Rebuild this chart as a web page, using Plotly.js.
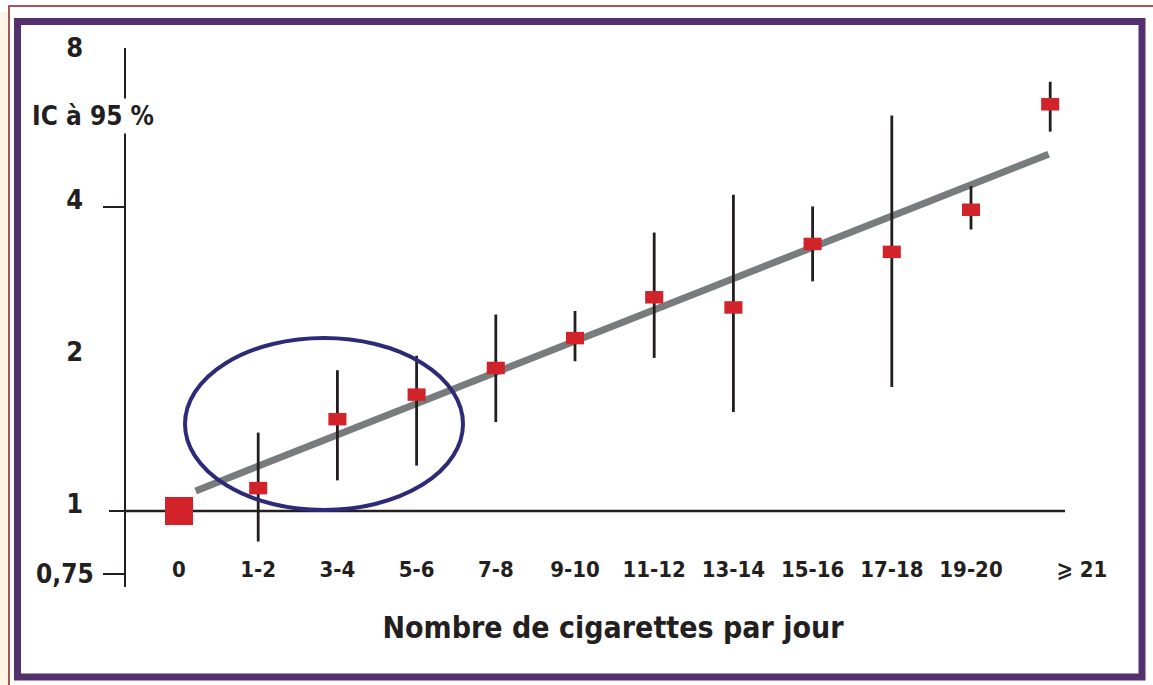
<!DOCTYPE html>
<html><head><meta charset="utf-8">
<script src="https://cdn.plot.ly/plotly-3.0.1.min.js"></script>
<style>html,body{margin:0;padding:0;background:#fff;overflow:hidden;} #chart{width:1153px;height:685px;}</style>
</head><body><div id="chart"></div>
<script>
// ---- data ----
const categories = ['0','1-2','3-4','5-6','7-8','9-10','11-12','13-14','15-16','17-18','19-20','\u2A7E 21'];
const rr     = [1.00, 1.11, 1.52, 1.70, 1.92, 2.20, 2.65, 2.53, 3.38, 3.26, 3.95, 6.39];
const ciLow  = [1.00, 0.87, 1.15, 1.23, 1.50, 1.98, 2.01, 1.57, 2.85, 1.76, 3.61, 5.64];
const ciHigh = [1.00, 1.43, 1.90, 2.03, 2.45, 2.49, 3.56, 4.23, 4.01, 6.07, 4.40, 7.08];
const trendX = [0.21, 10.98];
const trendY = [1.096, 5.09];
const yLabelVals = [1, 2, 4, 8];
const yLabelText = ['1', '2', '4', '8'];
const yTickMarkVals = [0.75, 4];
const yTickMarkText = ['0,75', ''];
const yTitle = 'IC \u00e0 95 %';
const xTitle = 'Nombre de cigarettes par jour';

// ---- layout helpers (pixel -> paper) ----
const L = 126, R = 1100, T = 48, B = 587;
const W = R - L, H = B - T;
const px = v => (v - L) / W;
const py = v => (B - v) / H;

const FONT = 'Liberation Sans Narrow, DejaVu Sans Condensed, Arial Narrow, sans-serif';
const INK = '#231f20';
const RED = '#d2232a';

const idx = categories.map((c, i) => i);
const last = categories.length - 1;
const xTickVals = idx.map(i => i === last ? i + 0.4 : i);

const yRange = [Math.log10(Math.pow(2, (511 - B) / 152)), Math.log10(Math.pow(2, (511 - T) / 152))];

const traces = [
  { x: trendX, y: trendY, type: 'scatter', mode: 'lines',
    line: { color: '#787c7c', width: 7 }, hoverinfo: 'skip', showlegend: false },
  { x: idx.slice(1), y: rr.slice(1), type: 'scatter', mode: 'markers',
    error_y: { type: 'data', symmetric: false,
      array: ciHigh.slice(1).map((h, i) => h - rr[i + 1]),
      arrayminus: ciLow.slice(1).map((l, i) => rr[i + 1] - l),
      color: INK, thickness: 2.8, width: 0 },
    marker: { symbol: 'line-ew', size: 12.9, color: RED, line: { color: RED, width: 12.5 } },
    showlegend: false },
  { x: idx.slice(0, 1), y: rr.slice(0, 1), type: 'scatter', mode: 'markers',
    marker: { symbol: 'square', size: 28, color: RED, line: { width: 0 } }, showlegend: false },
  { x: [], y: [], yaxis: 'y2', type: 'scatter', showlegend: false },
  { x: [], y: [], yaxis: 'y3', type: 'scatter', showlegend: false }
];

const commonY = { type: 'log', range: yRange, showgrid: false, zeroline: false, fixedrange: true };

const layout = {
  width: 1153, height: 685,
  margin: { l: L, r: 1153 - R, t: T, b: 685 - B, pad: 0 },
  paper_bgcolor: '#ffffff', plot_bgcolor: 'rgba(0,0,0,0)',
  showlegend: false,
  font: { family: FONT, color: INK, weight: 'bold' },
  xaxis: {
    range: [(L - 179) / 79.2, (R - 179) / 79.2],
    anchor: 'free', position: 0.062,
    showgrid: false, zeroline: false, showline: false, ticks: '',
    tickvals: xTickVals, ticktext: categories,
    tickfont: { family: FONT, size: 22, color: INK, weight: 'bold' },
    title: { text: xTitle, standoff: 36, font: { family: FONT, size: 30, color: INK, weight: 'bold' } },
    automargin: false, fixedrange: true
  },
  yaxis: Object.assign({}, commonY, {
    showline: true, linewidth: 2.5, linecolor: INK, ticks: '',
    tickvals: yLabelVals, ticktext: yLabelText,
    ticklabelstandoff: 35, ticklabelshift: -7,
    tickfont: { family: FONT, size: 27, color: INK, weight: 'bold' },
    automargin: false
  }),
  yaxis2: Object.assign({}, commonY, {
    overlaying: 'y', side: 'left', anchor: 'x', showline: false,
    ticks: 'outside', ticklen: 22, tickwidth: 2.5, tickcolor: INK,
    tickvals: yTickMarkVals, ticktext: yTickMarkText,
    ticklabelstandoff: 4,
    tickfont: { family: FONT, size: 26, color: INK, weight: 'bold' },
    automargin: false
  }),
  yaxis3: Object.assign({}, commonY, {
    overlaying: 'y', side: 'left', anchor: 'x', showline: false,
    ticks: 'outside', ticklen: 16, tickwidth: 2.5, tickcolor: INK,
    tickvals: [1], showticklabels: false, automargin: false
  }),
  shapes: [
    // reference line at 1
    { type: 'line', xref: 'paper', yref: 'y', x0: 0, x1: px(1065), y0: 1, y1: 1,
      line: { color: INK, width: 2.5 }, layer: 'below' },
    // highlight ellipse
    { type: 'circle', xref: 'paper', yref: 'paper', x0: px(185), x1: px(463), y0: py(510), y1: py(338),
      line: { color: '#2d2a78', width: 4 } },
    // cream strip on the left
    { type: 'rect', xref: 'paper', yref: 'paper', x0: px(0), x1: px(8), y0: py(12), y1: py(690),
      fillcolor: '#fdf5e6', line: { width: 0 } },
    // dark red outer rule
    { type: 'rect', xref: 'paper', yref: 'paper', x0: px(9), x1: px(1170), y0: py(6), y1: py(700),
      line: { color: '#8c1c24', width: 1.5 } },
    // purple frame
    { type: 'rect', xref: 'paper', yref: 'paper', x0: px(17.5), x1: px(1142), y0: py(21.5), y1: py(677),
      line: { color: '#55306f', width: 7 } }
  ],
  annotations: [
    { text: yTitle, xref: 'paper', yref: 'paper', x: px(93), y: py(116),
      xanchor: 'center', yanchor: 'middle', showarrow: false,
      bgcolor: '#ffffff', borderpad: 2,
      font: { family: FONT, size: 26, color: INK, weight: 'bold' } }
  ]
};

Plotly.newPlot('chart', traces, layout, { staticPlot: true, displayModeBar: false });
</script>
</body></html>
